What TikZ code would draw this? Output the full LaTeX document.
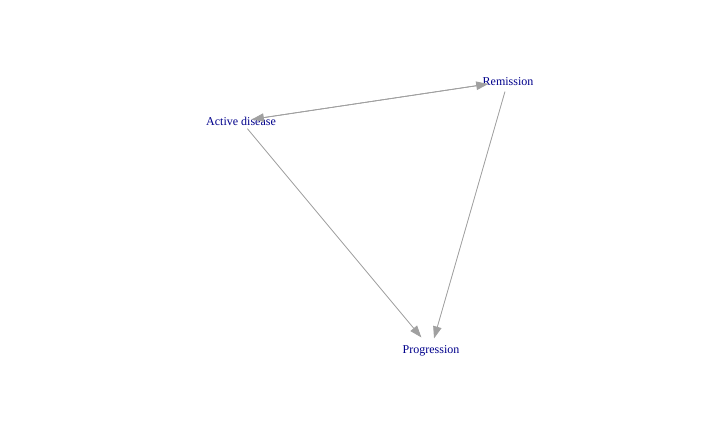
\documentclass[tikz,border=0pt]{standalone}
\usepackage{fontspec}
\setmainfont{Liberation Serif}
\usetikzlibrary{arrows.meta}
\definecolor{edgegray}{RGB}{160,160,160}
\definecolor{labelblue}{RGB}{0,0,139}
\tikzset{
	>={Triangle[length=12pt,width=8.5pt]},
	every edge/.style={draw=edgegray, fill=edgegray, line width=0.8pt, ->},
	state/.style={text=labelblue, inner sep=0pt, text height=8pt, text depth=0pt, font=\fontsize{12}{14}\selectfont},
	baseline}

\begin{document}
\begin{tikzpicture}[x=1pt, y=-1pt]
		\useasboundingbox (0,0) rectangle (720,444);
		
		\node[state] (act) at (241,121) {Active disease};
		\node[state] (rem) at (508,81) {Remission};
		\node[state] (prog) at (431,349) {Progression};
		
		\draw 
		(act.center) edge[shorten <=11pt, shorten >=20pt] (rem.center)
		(rem.center) edge[shorten <=20pt, shorten >=11pt] (act.center)
		(act.center) edge[shorten <=10pt, shorten >=15pt] (prog.center)
		(rem.center) edge[shorten <=11pt, shorten >=11pt] (prog.center)
		;
	\end{tikzpicture}
\end{document}
